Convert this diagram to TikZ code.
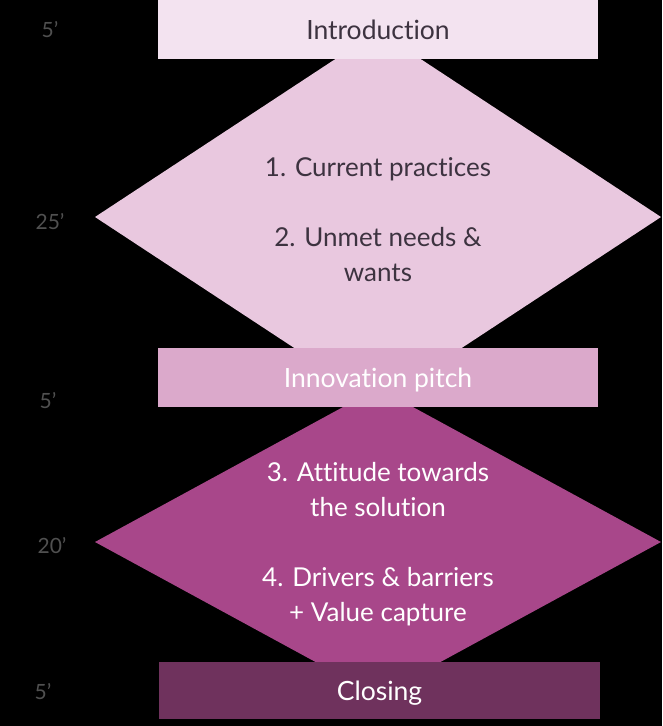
\documentclass[tikz,border=0pt]{standalone}
\usepackage{fontspec}
\setmainfont{Lato}[Ligatures=NoCommon]
\usetikzlibrary{shapes.geometric}
\definecolor{introfill}{HTML}{F3E3F0}
\definecolor{diaone}{HTML}{E9C8DF}
\definecolor{pitchfill}{HTML}{DBA9CB}
\definecolor{diatwo}{HTML}{A8478A}
\definecolor{closefill}{HTML}{6F325D}
\definecolor{darktext}{HTML}{3D3340}
\definecolor{timegray}{HTML}{505050}
\tikzset{
  phasebox/.style={rectangle, inner sep=0pt, outer sep=0pt, minimum width=440pt, minimum height=59pt, text height=19pt, text depth=0pt, font=\fontsize{26.5}{32}\selectfont},
  phasediamond/.style={diamond, inner sep=0pt, outer sep=0pt, minimum width=566pt},
  phasetext/.style={align=center, inner sep=0pt, font=\fontsize{26}{35}\selectfont},
  timelabel/.style={text=timegray, inner sep=0pt, font=\fontsize{21}{25}\selectfont}
}
\begin{document}
\begin{tikzpicture}[x=1pt,y=-1pt]
\fill[black] (0,0) rectangle (662,726);
\useasboundingbox (0,0) rectangle (662,726);
% diamonds
\node[phasediamond, fill=diaone, minimum height=372pt] (dia1) at (378,217) {};
\node[phasediamond, fill=diatwo, minimum height=308pt] (dia2) at (378,542) {};
\node[phasetext, text=darktext] (dia1text) at ([yshift=-3pt]dia1.center)
  {1. Current practices\\[35pt]2. Unmet needs \&\\wants};
\node[phasetext, text=white] (dia2text) at ([yshift=-2pt]dia2.center)
  {3. Attitude towards\\the solution\\[35pt]4. Drivers \& barriers\\+ Value capture};
% boxes
\node[phasebox, fill=introfill, text=darktext] (intro) at (378,29.5) {Introduction};
\node[phasebox, fill=pitchfill, text=white] (pitch) at (378,377.5) {Innovation pitch};
\node[phasebox, fill=closefill, text=white, minimum width=441pt, minimum height=57pt] (closing) at (379.5,690.5) {Closing};
% time labels
\node[timelabel] (t1) at (50,30) {5’};
\node[timelabel] (t2) at (50,222) {25’};
\node[timelabel] (t3) at (48,401) {5’};
\node[timelabel] (t4) at (52,546) {20’};
\node[timelabel] (t5) at (43,692) {5’};
\end{tikzpicture}
\end{document}
